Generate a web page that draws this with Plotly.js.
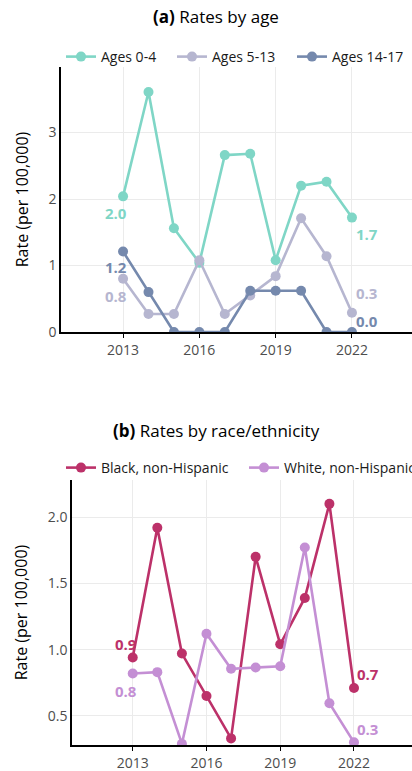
<!DOCTYPE html>
<html>
<head>
<meta charset="utf-8">
<script src="https://cdn.plot.ly/plotly-3.0.1.min.js"></script>
<style>
html, body { margin: 0; padding: 0; overflow: hidden; background: #fff; }
#chart { width: 432px; height: 771px; }
</style>
</head>
<body>
<div id="chart"></div>
<script>
// ---- Data ----
const years = [2013, 2014, 2015, 2016, 2017, 2018, 2019, 2020, 2021, 2022];

const ages0to4   = [2.04, 3.61, 1.56, 1.04, 2.66, 2.68, 1.08, 2.20, 2.26, 1.72];
const ages5to13  = [0.80, 0.27, 0.27, 1.08, 0.27, 0.55, 0.84, 1.71, 1.14, 0.29];
const ages14to17 = [1.21, 0.60, 0.00, 0.00, 0.00, 0.62, 0.62, 0.62, 0.00, 0.00];

const blackNH = [0.94, 1.92, 0.97, 0.65, 0.33, 1.70, 1.04, 1.39, 2.10, 0.71];
const whiteNH = [0.82, 0.83, 0.29, 1.12, 0.855, 0.865, 0.874, 1.77, 0.595, 0.30];

const ageNames  = ["Ages 0-4", "Ages 5-13", "Ages 14-17"];
const raceNames = ["Black, non-Hispanic", "White, non-Hispanic"];
const xTicks = [2013, 2016, 2019, 2022];

// ---- Styles ----
const FONT = "Open Sans, Noto Sans, sans-serif";
const colAge  = ["#7fd6c6", "#b6b6d0", "#7589ad"];
const colRace = ["#bc3169", "#c48fd4"];
const W = 432, H = 771;

function line(x, y, name, color, xa, ya, legend, lw) {
  const t = {
    x: x, y: y, name: name, type: "scatter", mode: "lines+markers",
    xaxis: xa, yaxis: ya, legend: legend,
    line: {color: color, width: 2.6},
    marker: {color: color, size: 10},
    cliponaxis: true
  };
  if (lw) t.legendwidth = lw;
  return t;
}

const traces = [
  line(years, ages0to4,   ageNames[0], colAge[0], "x", "y", "legend", 66),
  line(years, ages5to13,  ageNames[1], colAge[1], "x", "y", "legend", 75),
  line(years, ages14to17, ageNames[2], colAge[2], "x", "y", "legend"),
  line(years, blackNH, raceNames[0], colRace[0], "x2", "y2", "legend2", 138),
  line(years, whiteNH, raceNames[1], colRace[1], "x2", "y2", "legend2")
];

// end-point labels (first and last year), offsets in pixels
function lbl(series, idx, color, xa, ya, dx, dy) {
  return {
    x: years[idx], y: series[idx], xref: xa, yref: ya,
    text: "<b>" + series[idx].toFixed(1) + "</b>",
    showarrow: false, xshift: dx, yshift: dy,
    font: {family: FONT, size: 15, color: color}
  };
}
const last = years.length - 1;
const annotations = [
  lbl(ages0to4,   0, colAge[0], "x", "y", -7.5, -16.6),
  lbl(ages14to17, 0, colAge[2], "x", "y", -7.5, -15),
  lbl(ages5to13,  0, colAge[1], "x", "y", -7.5, -16.7),
  lbl(ages0to4,   last, colAge[0], "x", "y", 14.7, -16.6),
  lbl(ages5to13,  last, colAge[1], "x", "y", 14.7, 19.4),
  lbl(ages14to17, last, colAge[2], "x", "y", 14.7, 11.3),
  lbl(blackNH, 0, colRace[0], "x2", "y2", -6.7, 13.3),
  lbl(whiteNH, 0, colRace[1], "x2", "y2", -6.7, -17.3),
  lbl(blackNH, last, colRace[0], "x2", "y2", 14, 14.3),
  lbl(whiteNH, last, colRace[1], "x2", "y2", 14, 13.7),
  {
    text: "<b>(b)</b> Rates by race/ethnicity", xref: "paper", yref: "paper",
    x: 0.5, y: 1 - 430 / H, xanchor: "center", yanchor: "middle", showarrow: false,
    font: {family: FONT, size: 17, color: "#000"}
  }
];

function xaxis(domain, range) {
  return {
    domain: domain, range: range, tickvals: xTicks, ticktext: xTicks.map(String),
    showgrid: true, gridcolor: "#ebebeb", gridwidth: 1.2, zeroline: false,
    showline: true, linecolor: "#000", linewidth: 1.6,
    ticks: "outside", ticklen: 4, tickcolor: "#000", tickwidth: 1.2,
    tickfont: {family: FONT, size: 14, color: "#4d4d4d"}, automargin: false
  };
}
function yaxis(domain, range, anchor, dtick, fmt, standoff) {
  return {
    domain: domain, range: range, anchor: anchor, dtick: dtick, tickformat: fmt,
    showgrid: true, gridcolor: "#ebebeb", gridwidth: 1.2, zeroline: false,
    showline: true, linecolor: "#000", linewidth: 1.6, ticks: "",
    tickfont: {family: FONT, size: 14, color: "#4d4d4d"}, automargin: false,
    title: {text: "Rate (per 100,000)", font: {family: FONT, size: 16, color: "#000"}, standoff: standoff}
  };
}

const layout = {
  width: W, height: H,
  margin: {l: 0, r: 0, t: 0, b: 0},
  paper_bgcolor: "#fff", plot_bgcolor: "#fff",
  font: {family: FONT},
  title: {
    text: "<b>(a)</b> Rates by age", x: 0.5, xanchor: "center",
    y: 1 - 17 / H, yanchor: "middle", yref: "paper",
    font: {family: FONT, size: 17, color: "#000"}
  },
  xaxis:  Object.assign(xaxis([61 / W, 413 / W], [2010.56, 2024.40]), {anchor: "y"}),
  yaxis:  yaxis([1 - 332 / H, 1 - 67 / H], [0, 3.985], "x", 1, ".0f", 16),
  xaxis2: Object.assign(xaxis([72 / W, 413 / W], [2010.53, 2024.40]), {anchor: "y2"}),
  yaxis2: yaxis([1 - 745 / H, 1 - 480 / H], [0.28, 2.28], "x2", 0.5, ".1f", 16),
  legend: {
    orientation: "h", x: 61 / W, xanchor: "left", y: 1 - 57 / H, yanchor: "middle",
    font: {family: FONT, size: 14, color: "#1a1a1a"}, bgcolor: "rgba(0,0,0,0)"
  },
  legend2: {
    orientation: "h", x: 61 / W, xanchor: "left", y: 1 - 468 / H, yanchor: "middle",
    font: {family: FONT, size: 14, color: "#1a1a1a"}, bgcolor: "rgba(0,0,0,0)"
  },
  annotations: annotations,
  showlegend: true
};

Plotly.newPlot("chart", traces, layout, {displayModeBar: false, responsive: false});
</script>
</body>
</html>
